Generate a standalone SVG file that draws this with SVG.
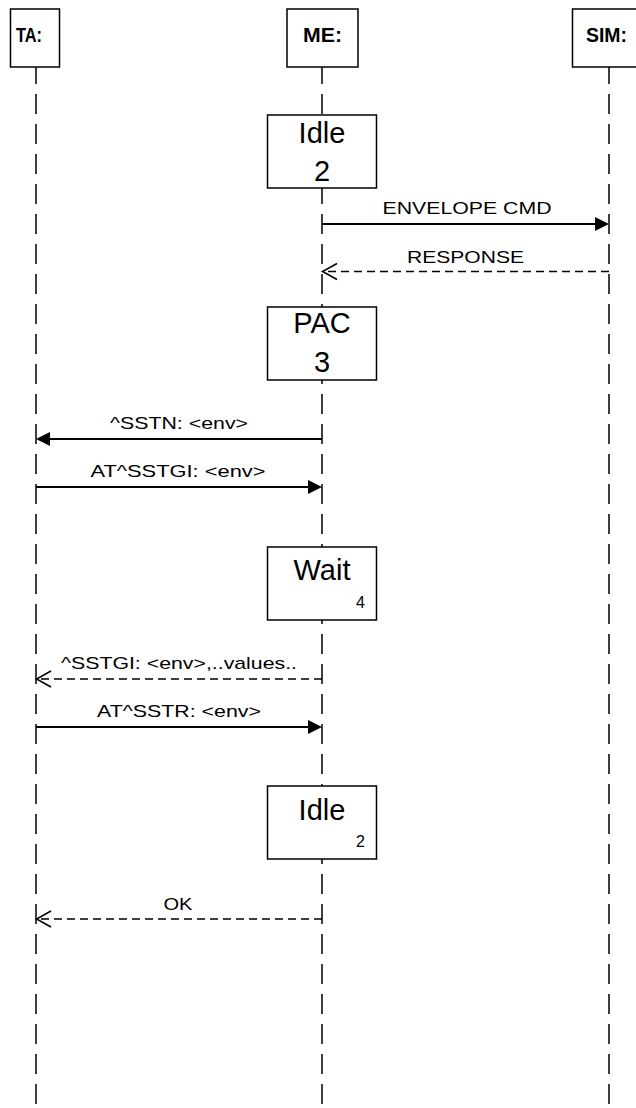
<svg xmlns="http://www.w3.org/2000/svg" width="636" height="1108" viewBox="0 0 636 1108">
  <style>
    .box { fill: #fff; stroke: #000; stroke-width: 1.5; }
    .life { stroke: #000; stroke-width: 1.5; stroke-dasharray: 20 10; stroke-dashoffset: 3; fill: none; }
    .msg { stroke: #000; stroke-width: 2; fill: none; }
    .ret { stroke: #000; stroke-width: 1.5; fill: none; stroke-dasharray: 8 5; }
    .open { stroke: #000; stroke-width: 1.5; fill: none; }
    .head { fill: #000; }
    .hdr { font-family: "Liberation Sans", Arial, sans-serif; font-size: 20px; font-weight: bold; fill: #000; }
    .lbl { font-family: "Liberation Sans", Arial, sans-serif; font-size: 17px; fill: #000; text-anchor: middle; }
    .state { font-family: "Liberation Sans", Arial, sans-serif; font-size: 29px; fill: #000; text-anchor: middle; }
    .idx { font-family: "Liberation Sans", Arial, sans-serif; font-size: 16px; fill: #000; text-anchor: end; }
  </style>

  <!-- lifelines -->
  <g id="lifelines">
    <line class="life" x1="36" y1="67" x2="36" y2="1108"/>
    <line class="life" x1="322" y1="67" x2="322" y2="1108"/>
    <line class="life" x1="609" y1="67" x2="609" y2="1108"/>
  </g>

  <!-- participants -->
  <g id="ta">
    <rect class="box" x="10.5" y="9" width="49" height="58"/>
    <text class="hdr" x="16" y="42" textLength="26" lengthAdjust="spacingAndGlyphs">TA:</text>
  </g>
  <g id="me">
    <rect class="box" x="287" y="9" width="71" height="58"/>
    <text class="hdr" x="303" y="42" textLength="39" lengthAdjust="spacingAndGlyphs">ME:</text>
  </g>
  <g id="sim">
    <rect class="box" x="572.5" y="9" width="73" height="58"/>
    <text class="hdr" x="586" y="42" textLength="41" lengthAdjust="spacingAndGlyphs">SIM:</text>
  </g>

  <!-- states on the ME lifeline -->
  <g id="state-idle-1">
    <rect class="box" x="267.5" y="115" width="109" height="73"/>
    <text class="state" x="322" y="143">Idle</text>
    <text class="state" x="322" y="181">2</text>
  </g>
  <g id="state-pac">
    <rect class="box" x="267.5" y="307" width="109" height="73"/>
    <text class="state" x="322" y="333">PAC</text>
    <text class="state" x="322" y="372">3</text>
  </g>
  <g id="state-wait">
    <rect class="box" x="267.5" y="547" width="109" height="73"/>
    <text class="state" x="322" y="580">Wait</text>
    <text class="idx" x="365" y="608">4</text>
  </g>
  <g id="state-idle-2">
    <rect class="box" x="267.5" y="786" width="109" height="73"/>
    <text class="state" x="322" y="820">Idle</text>
    <text class="idx" x="365" y="847">2</text>
  </g>

  <!-- messages -->
  <g id="connectors">
    <line class="msg" x1="322" y1="224" x2="596" y2="224"/>
    <polygon class="head" points="609,224 595,217 595,231"/>
    <text class="lbl" x="467" y="214" textLength="169" lengthAdjust="spacingAndGlyphs">ENVELOPE CMD</text>

    <line class="ret" x1="609" y1="271.5" x2="323" y2="271.5"/>
    <polyline class="open" points="337,263.5 322.5,271.5 337,279.5"/>
    <text class="lbl" x="465.5" y="262.5" textLength="117" lengthAdjust="spacingAndGlyphs">RESPONSE</text>

    <line class="msg" x1="322" y1="439" x2="49" y2="439"/>
    <polygon class="head" points="36,439 50,432 50,446"/>
    <text class="lbl" x="179" y="429" textLength="138" lengthAdjust="spacingAndGlyphs">^SSTN: &lt;env&gt;</text>

    <line class="msg" x1="36" y1="487" x2="309" y2="487"/>
    <polygon class="head" points="322,487 308,480 308,494"/>
    <text class="lbl" x="178" y="477" textLength="175" lengthAdjust="spacingAndGlyphs">AT^SSTGI: &lt;env&gt;</text>

    <line class="ret" x1="322" y1="679" x2="37" y2="679"/>
    <polyline class="open" points="51,671 36.5,679 51,687"/>
    <text class="lbl" x="179" y="669" textLength="236" lengthAdjust="spacingAndGlyphs">^SSTGI: &lt;env&gt;,..values..</text>

    <line class="msg" x1="36" y1="727" x2="309" y2="727"/>
    <polygon class="head" points="322,727 308,720 308,734"/>
    <text class="lbl" x="179" y="717" textLength="164" lengthAdjust="spacingAndGlyphs">AT^SSTR: &lt;env&gt;</text>

    <line class="ret" x1="322" y1="919" x2="37" y2="919"/>
    <polyline class="open" points="51,911 36.5,919 51,927"/>
    <text class="lbl" x="178" y="910" textLength="29" lengthAdjust="spacingAndGlyphs">OK</text>
  </g>
</svg>
